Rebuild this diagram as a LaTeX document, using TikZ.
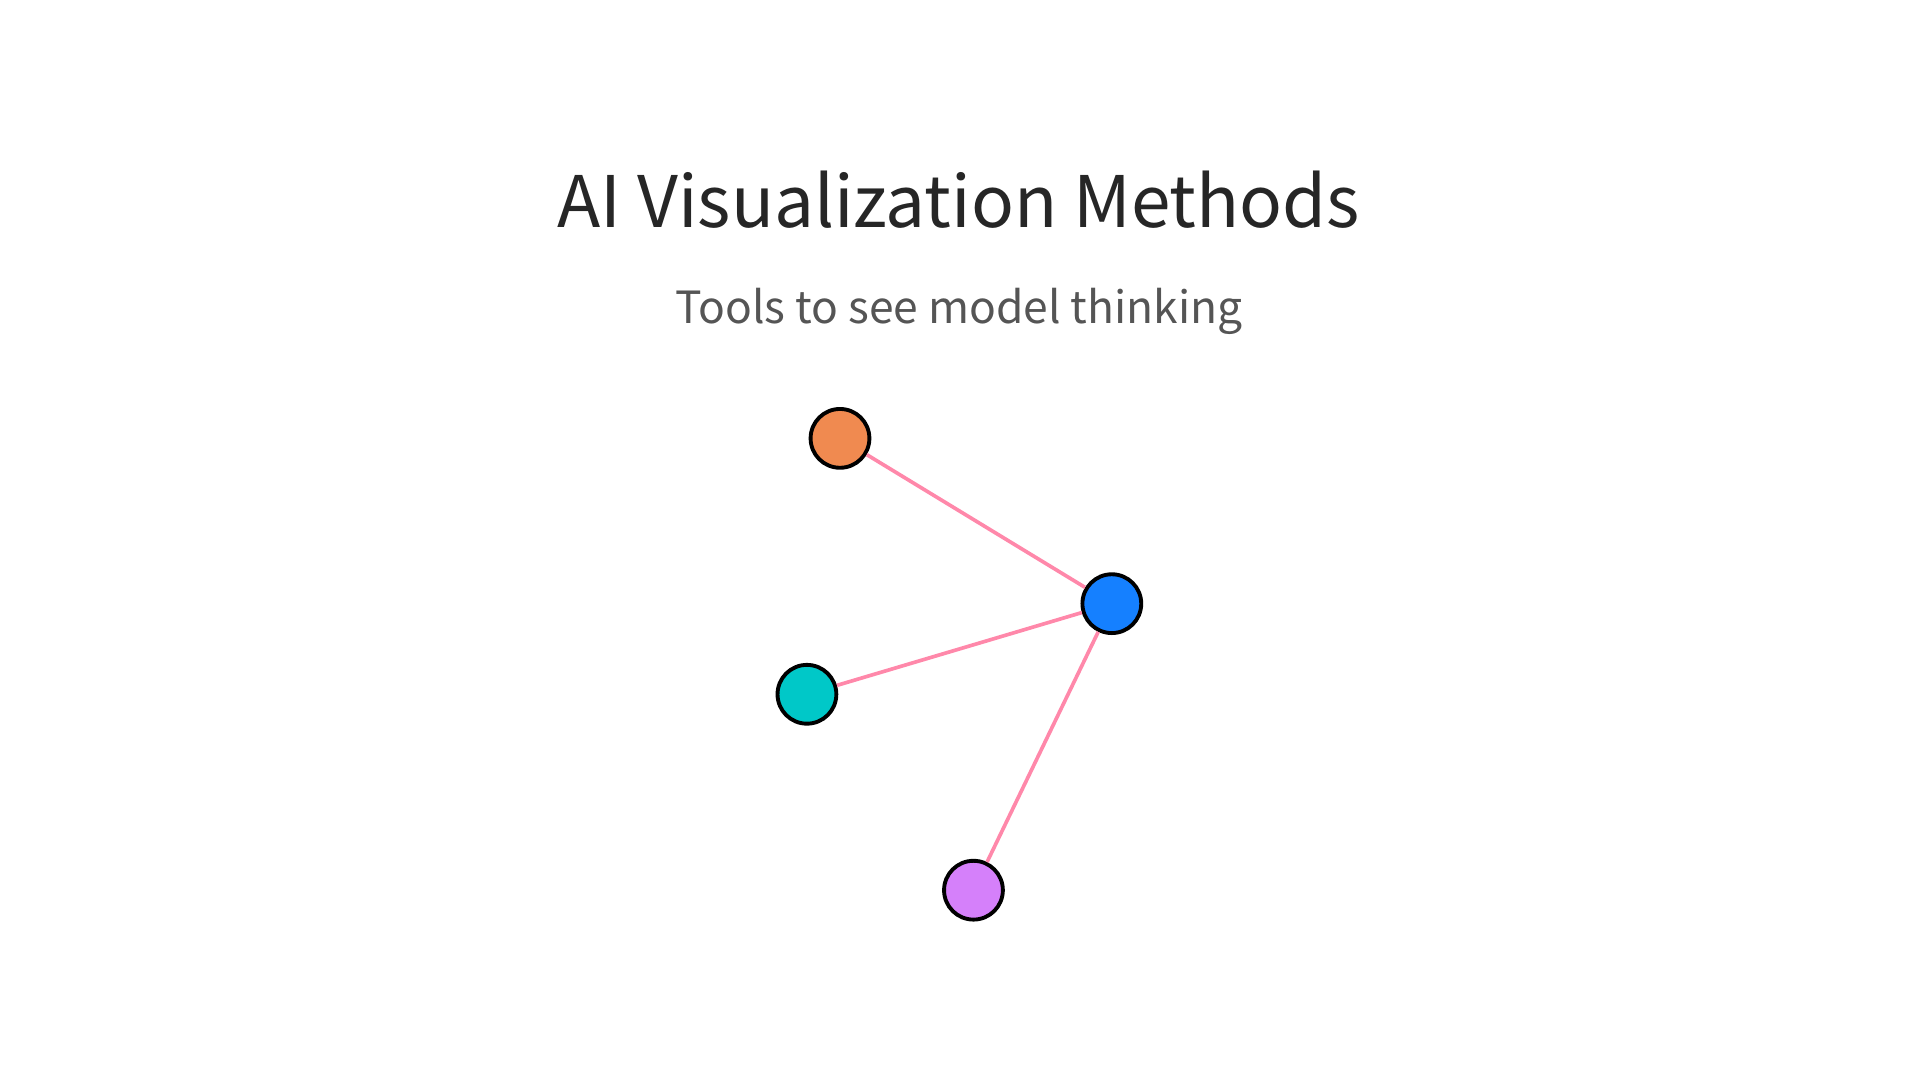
\documentclass[tikz,border=0pt]{standalone}
\usepackage{fontspec}
\setmainfont{Noto Sans CJK SC}
\definecolor{edgepink}{HTML}{FF88AA}
\definecolor{corange}{HTML}{F08A50}
\definecolor{cblue}{HTML}{1580FF}
\definecolor{cteal}{HTML}{00C8C8}
\definecolor{cpurple}{HTML}{D580FA}
\begin{document}
\begin{tikzpicture}[x=0.01cm,y=-0.01cm,
  dot/.style={circle,draw=black,line width=0.9pt,minimum size=0.48cm,inner sep=0pt},
  link/.style={draw=edgepink,line width=0.85pt}]
\useasboundingbox[fill=white] (0,0) rectangle (1568,882);
\node (title) at (783,163) {\fontsize{16.5pt}{20pt}\selectfont\color[HTML]{262626}AI Visualization Methods};
\node (sub) at (783,254) {\fontsize{10.3pt}{13pt}\selectfont\color[HTML]{555555}Tools to see model thinking};
\node[dot,fill=corange] (o) at (686,358) {};
\node[dot,fill=cblue] (b) at (908,493) {};
\node[dot,fill=cteal] (t) at (659,567) {};
\node[dot,fill=cpurple] (p) at (795,727) {};
\draw[link] (o) -- (b);
\draw[link] (t) -- (b);
\draw[link] (p) -- (b);
\end{tikzpicture}
\end{document}
